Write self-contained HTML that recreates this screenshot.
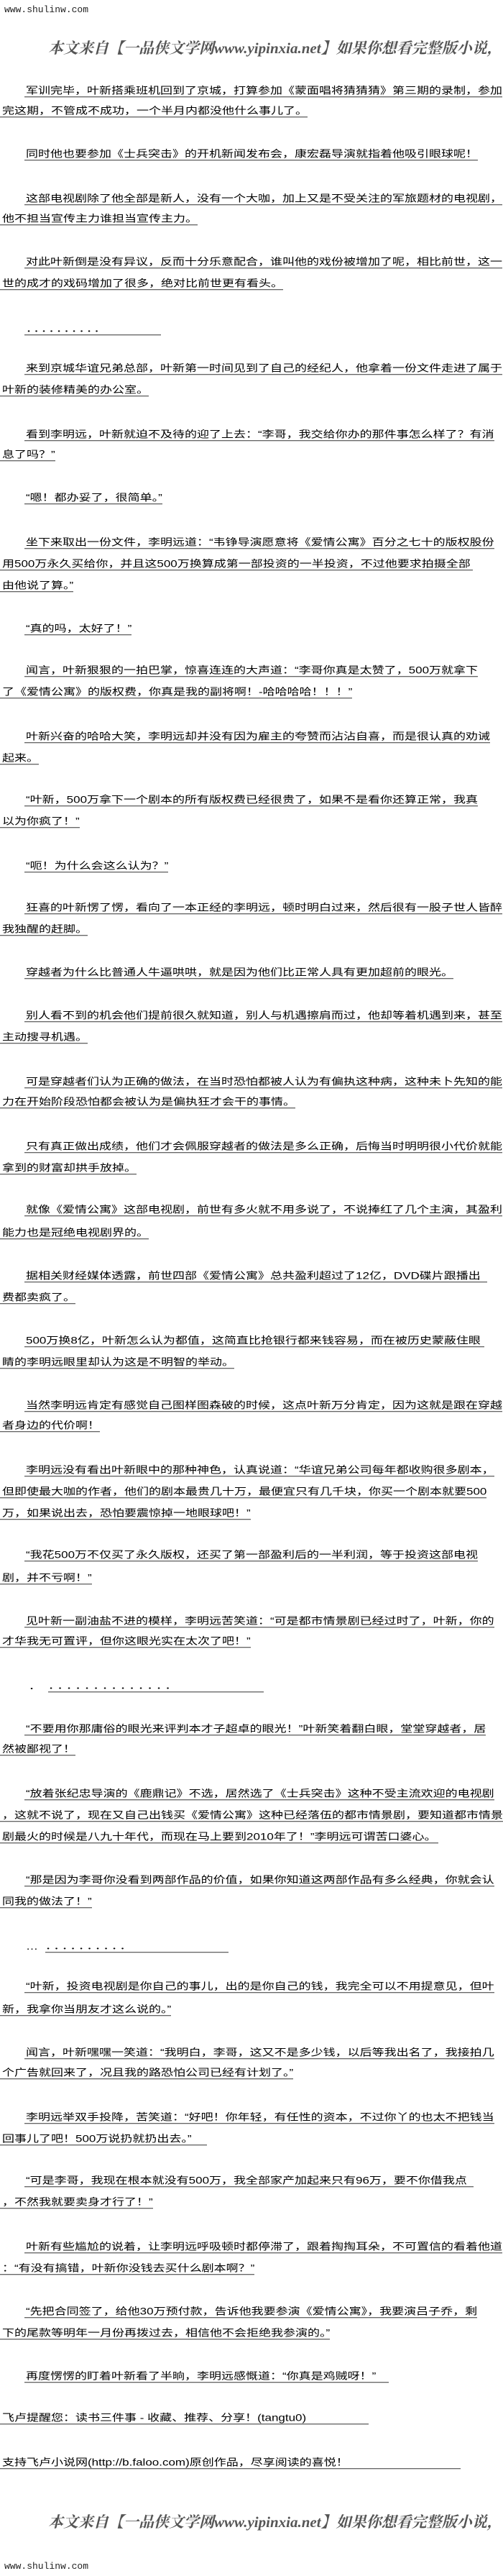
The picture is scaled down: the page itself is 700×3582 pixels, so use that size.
<!DOCTYPE html>
<html><head><meta charset="utf-8">
<style>
html,body{margin:0;padding:0;background:#fff;}
body{width:700px;height:3582px;position:relative;overflow:hidden;font-family:"Liberation Sans","WenQuanYi Zen Hei","Noto Sans CJK SC",sans-serif;color:#000;}
.l{position:absolute;height:22px;line-height:20px;font-size:17px;white-space:nowrap;transform:scaleY(0.8);transform-origin:left center;}
.l span{border-bottom:1px solid #000;padding-bottom:1px;display:inline-block;line-height:18px;vertical-align:top;}
.f{left:34px;}
.c{left:0px;}
.c span{padding-left:3px;}
.f span{padding-left:2px;}
.hw{position:absolute;left:67px;width:633px;height:30px;overflow:hidden;}
.hd{font-family:"Liberation Serif","Noto Serif CJK SC",serif;font-style:italic;font-weight:bold;font-size:21px;line-height:30px;color:#555;white-space:nowrap;}
.site{position:absolute;left:6px;font-family:"Liberation Mono","Noto Sans CJK SC",monospace;font-size:13px;color:#222;}
</style></head><body>
<div class="site" style="top:6px">www.shulinw.com</div>
<div class="hw" style="top:52px"><div class="hd">本文来自【一品侠文学网www.yipinxia.net】如果你想看完整版小说，访问</div></div>

<div class="l f" style="top:117px"><span>军训完毕，叶新搭乘班机回到了京城，打算参加《蒙面唱将猜猜猜》第三期的录制，参加</span></div>
<div class="l c" style="top:145px"><span>完这期，不管成不成功，一个半月内都没他什么事儿了。</span></div>
<div class="l f" style="top:205px"><span>同时他也要参加《士兵突击》的开机新闻发布会，康宏磊导演就指着他吸引眼球呢！</span></div>
<div class="l f" style="top:267px"><span>这部电视剧除了他全部是新人，没有一个大咖，加上又是不受关注的军旅题材的电视剧，</span></div>
<div class="l c" style="top:295px"><span>他不担当宣传主力谁担当宣传主力。</span></div>
<div class="l f" style="top:355px"><span>对此叶新倒是没有异议，反而十分乐意配合，谁叫他的戏份被增加了呢，相比前世，这一</span></div>
<div class="l c" style="top:385px"><span>世的成才的戏码增加了很多，绝对比前世更有看头。</span></div>
<div class="l f" style="top:448px"><span style="width:188px;letter-spacing:2px">．．．．．．．．．．</span></div>
<div class="l f" style="top:503px"><span>来到京城华谊兄弟总部，叶新第一时间见到了自己的经纪人，他拿着一份文件走进了属于</span></div>
<div class="l c" style="top:533px"><span>叶新的装修精美的办公室。</span></div>
<div class="l f" style="top:595px"><span>看到李明远，叶新就迫不及待的迎了上去：“李哥，我交给你办的那件事怎么样了？有消</span></div>
<div class="l c" style="top:623px"><span>息了吗？”</span></div>
<div class="l f" style="top:683px"><span>“嗯！都办妥了，很简单。”</span></div>
<div class="l f" style="top:745px"><span>坐下来取出一份文件，李明远道：“韦铮导演愿意将《爱情公寓》百分之七十的版权股份</span></div>
<div class="l c" style="top:775px"><span style="width:655px">用500万永久买给你，并且这500万换算成第一部投资的一半投资，不过他要求拍摄全部</span></div>
<div class="l c" style="top:805px"><span>由他说了算。”</span></div>
<div class="l f" style="top:865px"><span>“真的吗，太好了！”</span></div>
<div class="l f" style="top:923px"><span>闻言，叶新狠狠的一拍巴掌，惊喜连连的大声道：“李哥你真是太赞了，500万就拿下</span></div>
<div class="l c" style="top:953px"><span>了《爱情公寓》的版权费，你真是我的副将啊！-哈哈哈哈！！！”</span></div>
<div class="l f" style="top:1015px"><span>叶新兴奋的哈哈大笑，李明远却并没有因为雇主的夸赞而沾沾自喜，而是很认真的劝诫</span></div>
<div class="l c" style="top:1045px"><span>起来。</span></div>
<div class="l f" style="top:1103px"><span>“叶新，500万拿下一个剧本的所有版权费已经很贵了，如果不是看你还算正常，我真</span></div>
<div class="l c" style="top:1133px"><span>以为你疯了！”</span></div>
<div class="l f" style="top:1195px"><span>“呃！为什么会这么认为？”</span></div>
<div class="l f" style="top:1253px"><span>狂喜的叶新愣了愣，看向了一本正经的李明远，顿时明白过来，然后很有一股子世人皆醉</span></div>
<div class="l c" style="top:1283px"><span>我独醒的赶脚。</span></div>
<div class="l f" style="top:1343px"><span>穿越者为什么比普通人牛逼哄哄，就是因为他们比正常人具有更加超前的眼光。</span></div>
<div class="l f" style="top:1403px"><span>别人看不到的机会他们提前很久就知道，别人与机遇擦肩而过，他却等着机遇到来，甚至</span></div>
<div class="l c" style="top:1433px"><span>主动搜寻机遇。</span></div>
<div class="l f" style="top:1495px"><span>可是穿越者们认为正确的做法，在当时恐怕都被人认为有偏执这种病，这种未卜先知的能</span></div>
<div class="l c" style="top:1523px"><span>力在开始阶段恐怕都会被认为是偏执狂才会干的事情。</span></div>
<div class="l f" style="top:1585px"><span>只有真正做出成绩，他们才会佩服穿越者的做法是多么正确，后悔当时明明很小代价就能</span></div>
<div class="l c" style="top:1615px"><span>拿到的财富却拱手放掉。</span></div>
<div class="l f" style="top:1673px"><span>就像《爱情公寓》这部电视剧，前世有多火就不用多说了，不说捧红了几个主演，其盈利</span></div>
<div class="l c" style="top:1705px"><span>能力也是冠绝电视剧界的。</span></div>
<div class="l f" style="top:1765px"><span>据相关财经媒体透露，前世四部《爱情公寓》总共盈利超过了12亿，DVD碟片跟播出&nbsp;&nbsp;</span></div>
<div class="l c" style="top:1795px"><span>费都卖疯了。</span></div>
<div class="l f" style="top:1855px"><span>500万换8亿，叶新怎么认为都值，这简直比抢银行都来钱容易，而在被历史蒙蔽住眼&nbsp;</span></div>
<div class="l c" style="top:1885px"><span>睛的李明远眼里却认为这是不明智的举动。</span></div>
<div class="l f" style="top:1945px"><span>当然李明远肯定有感觉自己图样图森破的时候，这点叶新万分肯定，因为这就是跟在穿越</span></div>
<div class="l c" style="top:1973px"><span>者身边的代价啊！</span></div>
<div class="l f" style="top:2035px"><span>李明远没有看出叶新眼中的那种神色，认真说道：“华谊兄弟公司每年都收购很多剧本，</span></div>
<div class="l c" style="top:2065px"><span>但即使最大咖的作者，他们的剧本最贵几十万，最便宜只有几千块，你买一个剧本就要500</span></div>
<div class="l c" style="top:2095px"><span>万，如果说出去，恐怕要震惊掉一地眼球吧！”</span></div>
<div class="l f" style="top:2153px"><span>“我花500万不仅买了永久版权，还买了第一部盈利后的一半利润，等于投资这部电视</span></div>
<div class="l c" style="top:2185px"><span>剧，并不亏啊！”</span></div>
<div class="l f" style="top:2245px"><span>见叶新一副油盐不进的模样，李明远苦笑道：“可是都市情景剧已经过时了，叶新，你的</span></div>
<div class="l c" style="top:2273px"><span>才华我无可置评，但你这眼光实在太次了吧！”</span></div>
<div class="l" style="top:2335px;left:40px">．<span style="margin-left:10px;width:300px;letter-spacing:4px">．．．．．．．．．．．．．．</span></div>
<div class="l f" style="top:2395px"><span>“不要用你那庸俗的眼光来评判本才子超卓的眼光！”叶新笑着翻白眼，堂堂穿越者，居</span></div>
<div class="l c" style="top:2423px"><span>然被鄙视了！</span></div>
<div class="l f" style="top:2485px"><span>“放着张纪忠导演的《鹿鼎记》不选，居然选了《士兵突击》这种不受主流欢迎的电视剧</span></div>
<div class="l c" style="top:2515px"><span>，这就不说了，现在又自己出钱买《爱情公寓》这种已经落伍的都市情景剧，要知道都市情景</span></div>
<div class="l c" style="top:2545px"><span style="width:607px">剧最火的时候是八九十年代，而现在马上要到2010年了！”李明远可谓苦口婆心。</span></div>
<div class="l f" style="top:2605px"><span>“那是因为李哥你没看到两部作品的价值，如果你知道这两部作品有多么经典，你就会认</span></div>
<div class="l c" style="top:2635px"><span>同我的做法了！”</span></div>
<div class="l" style="top:2697px;left:36px">…<span style="margin-left:10px;width:255px;letter-spacing:3px">．．．．．．．．．．</span></div>
<div class="l f" style="top:2753px"><span>“叶新，投资电视剧是你自己的事儿，出的是你自己的钱，我完全可以不用提意见，但叶</span></div>
<div class="l c" style="top:2785px"><span>新，我拿你当朋友才这么说的。”</span></div>
<div class="l f" style="top:2845px"><span>闻言，叶新嘿嘿一笑道：“我明白，李哥，这又不是多少钱，以后等我出名了，我接拍几</span></div>
<div class="l c" style="top:2873px"><span>个广告就回来了，况且我的路恐怕公司已经有计划了。”</span></div>
<div class="l f" style="top:2935px"><span>李明远举双手投降，苦笑道：“好吧！你年轻，有任性的资本，不过你丫的也太不把钱当</span></div>
<div class="l c" style="top:2965px"><span style="width:285px">回事儿了吧！500万说扔就扔出去。”</span></div>
<div class="l f" style="top:3023px"><span>“可是李哥，我现在根本就没有500万，我全部家产加起来只有96万，要不你借我点&nbsp;&nbsp;</span></div>
<div class="l c" style="top:3053px"><span>，不然我就要卖身才行了！”</span></div>
<div class="l f" style="top:3115px"><span>叶新有些尴尬的说着，让李明远呼吸顿时都停滞了，跟着掏掏耳朵，不可置信的看着他道</span></div>
<div class="l c" style="top:3145px"><span>：“有没有搞错，叶新你没钱去买什么剧本啊？”</span></div>
<div class="l f" style="top:3205px"><span>“先把合同签了，给他30万预付款，告诉他我要参演《爱情公寓》，我要演吕子乔，剩</span></div>
<div class="l c" style="top:3235px"><span>下的尾款等明年一月份再拨过去，相信他不会拒绝我参演的。”</span></div>
<div class="l f" style="top:3295px"><span style="width:505px">再度愣愣的盯着叶新看了半晌，李明远感慨道：“你真是鸡贼呀！”</span></div>
<div class="l c" style="top:3353px"><span style="width:510px">飞卢提醒您：读书三件事 - 收藏、推荐、分享！(tangtu0)</span></div>
<div class="l c" style="top:3415px"><span style="width:638px">支持飞卢小说网(http://b.faloo.com)原创作品，尽享阅读的喜悦！</span></div>

<div class="hw" style="top:3492px"><div class="hd">本文来自【一品侠文学网www.yipinxia.net】如果你想看完整版小说，访问</div></div>
<div class="site" style="top:3561px">www.shulinw.com</div>
</body></html>
